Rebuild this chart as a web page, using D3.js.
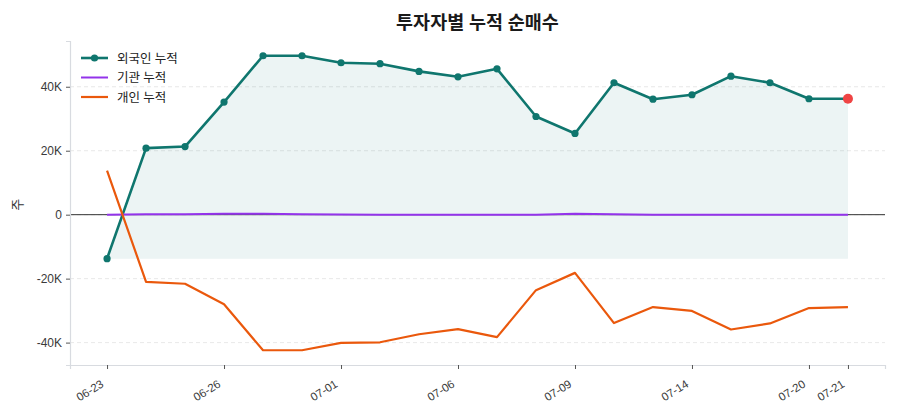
<!DOCTYPE html>
<html>
<head>
<meta charset="utf-8">
<script src="https://cdn.jsdelivr.net/npm/d3@7"></script>
<style>
  body { margin: 0; background: #fff; }
  svg { font-family: "Noto Sans", "Noto Sans CJK KR", sans-serif; }
  .tick text { fill: #3a3a3a; }
</style>
</head>
<body>
<svg id="chart" width="900" height="420"></svg>
<script>
const dates = ['06-23', '06-24', '06-25', '06-26', '06-29', '06-30', '07-01', '07-02', '07-03', '07-06',
  '07-07', '07-08', '07-09', '07-10', '07-13', '07-14', '07-15', '07-16', '07-20', '07-21'];
const foreignCum = [-13750, 20800, 21300, 35200, 49700, 49700, 47500, 47200, 44800, 43100,
  45600, 30700, 25400, 41250, 36100, 37500, 43300, 41250, 36250, 36250];
const institutionCum = [0, 100, 150, 300, 250, 150, 50, 0, 0, 0,
  0, 0, 250, 150, 0, 0, 0, 0, 0, 0];
const individualCum = [13750, -21000, -21600, -28000, -42400, -42400, -40100, -39900, -37400, -35800,
  -38300, -23600, -18200, -33900, -28900, -30100, -35900, -34000, -29200, -28900];
const tickIndexes = [0, 3, 6, 9, 12, 15, 18, 19];
const yTicks = [-40000, -20000, 0, 20000, 40000];

const series = [
  { key: 'foreign', label: '외국인 누적', values: foreignCum, color: '#0f766e', width: 2.6, marker: true },
  { key: 'institution', label: '기관 누적', values: institutionCum, color: '#9333ea', width: 2, marker: false },
  { key: 'individual', label: '개인 누적', values: individualCum, color: '#ea580c', width: 2.2, marker: false },
];

const margin = { top: 41, right: 15, bottom: 55, left: 70 };
const width = 900, height = 420;
const svg = d3.select('#chart');

const allValues = [...foreignCum, ...institutionCum, ...individualCum];
const yMin = d3.min(allValues), yMax = d3.max(allValues);
const yPad = (yMax - yMin) * 0.05;
const xPad = (dates.length - 1) * 0.05;

const x = d3.scaleLinear()
  .domain([-xPad, dates.length - 1 + xPad])
  .range([margin.left, width - margin.right]);
const y = d3.scaleLinear()
  .domain([yMin - yPad, yMax + yPad])
  .range([height - margin.bottom, margin.top]);

// grid
svg.append('g')
  .selectAll('line')
  .data(yTicks)
  .join('line')
  .attr('x1', margin.left)
  .attr('x2', width - margin.right)
  .attr('y1', (d) => y(d))
  .attr('y2', (d) => y(d))
  .attr('stroke', '#e2e2e2')
  .attr('stroke-dasharray', '4,3')
  .attr('stroke-width', 0.8);

// shaded area under foreign line
const foreignBase = d3.min(foreignCum);
svg.append('path')
  .datum(foreignCum)
  .attr('fill', '#0f766e')
  .attr('fill-opacity', 0.08)
  .attr('d', d3.area().x((d, i) => x(i)).y0(y(foreignBase)).y1((d) => y(d)));

// zero line
svg.append('line')
  .attr('x1', margin.left)
  .attr('x2', width - margin.right)
  .attr('y1', y(0))
  .attr('y2', y(0))
  .attr('stroke', '#333')
  .attr('stroke-width', 1);

// axes
const xAxis = svg.append('g')
  .attr('transform', `translate(0,${height - margin.bottom})`)
  .call(d3.axisBottom(x).tickValues(tickIndexes).tickFormat((i) => dates[i]).tickSize(4).tickPadding(4));
xAxis.select('.domain').attr('stroke', '#d8dbe0').attr('stroke-width', 1.2);
xAxis.selectAll('.tick line').attr('stroke', '#555');
xAxis.selectAll('.tick text')
  .attr('font-size', 11.5)
  .attr('text-anchor', 'end')
  .attr('x', 0)
  .attr('y', 0)
  .attr('dy', 0)
  .attr('transform', 'translate(-3,21) rotate(-32)');

const yAxis = svg.append('g')
  .attr('transform', `translate(${margin.left},0)`)
  .call(d3.axisLeft(y).tickValues(yTicks).tickFormat((d) => (d === 0 ? '0' : `${d / 1000}K`)).tickSize(4).tickPadding(4));
yAxis.select('.domain').attr('stroke', '#d8dbe0').attr('stroke-width', 1.2);
yAxis.selectAll('.tick line').attr('stroke', '#555');
yAxis.selectAll('.tick text').attr('font-size', 12).text(function () { return d3.select(this).text().replace('−', '-'); });

svg.append('text')
  .attr('transform', `translate(22,${y(0) - 10}) rotate(-90)`)
  .attr('text-anchor', 'middle')
  .attr('font-size', 13)
  .attr('fill', '#333')
  .text('주');

// lines
const line = d3.line().x((d, i) => x(i)).y((d) => y(d));
series.forEach((s) => {
  svg.append('path')
    .datum(s.values)
    .attr('fill', 'none')
    .attr('stroke', s.color)
    .attr('stroke-width', s.width)
    .attr('stroke-linejoin', 'round')
    .attr('d', line);
  if (s.marker) {
    svg.append('g')
      .selectAll('circle')
      .data(s.values.slice(0, -1))
      .join('circle')
      .attr('cx', (d, i) => x(i))
      .attr('cy', (d) => y(d))
      .attr('r', 3.6)
      .attr('fill', s.color);
  }
});

// highlight last foreign point
const lastIdx = foreignCum.length - 1;
svg.append('circle')
  .attr('cx', x(lastIdx))
  .attr('cy', y(foreignCum[lastIdx]))
  .attr('r', 5)
  .attr('fill', '#ef4444');

// title
svg.append('text')
  .attr('x', (margin.left + width - margin.right) / 2)
  .attr('y', 29)
  .attr('text-anchor', 'middle')
  .attr('font-size', 18.5)
  .attr('font-weight', 'bold')
  .attr('fill', '#1a1a1a')
  .text('투자자별 누적 순매수');

// legend
const legend = svg.append('g').attr('transform', 'translate(81,58)');
series.forEach((s, i) => {
  const row = legend.append('g').attr('transform', `translate(0,${i * 19.5})`);
  row.append('line').attr('x1', 0).attr('x2', 27).attr('y1', 0).attr('y2', 0)
    .attr('stroke', s.color).attr('stroke-width', s.width);
  if (s.marker) row.append('circle').attr('cx', 13.5).attr('cy', 0).attr('r', 3.6).attr('fill', s.color);
  row.append('text').attr('x', 36).attr('y', 4.5).attr('font-size', 12.5).attr('fill', '#222').text(s.label);
});
</script>
</body>
</html>
